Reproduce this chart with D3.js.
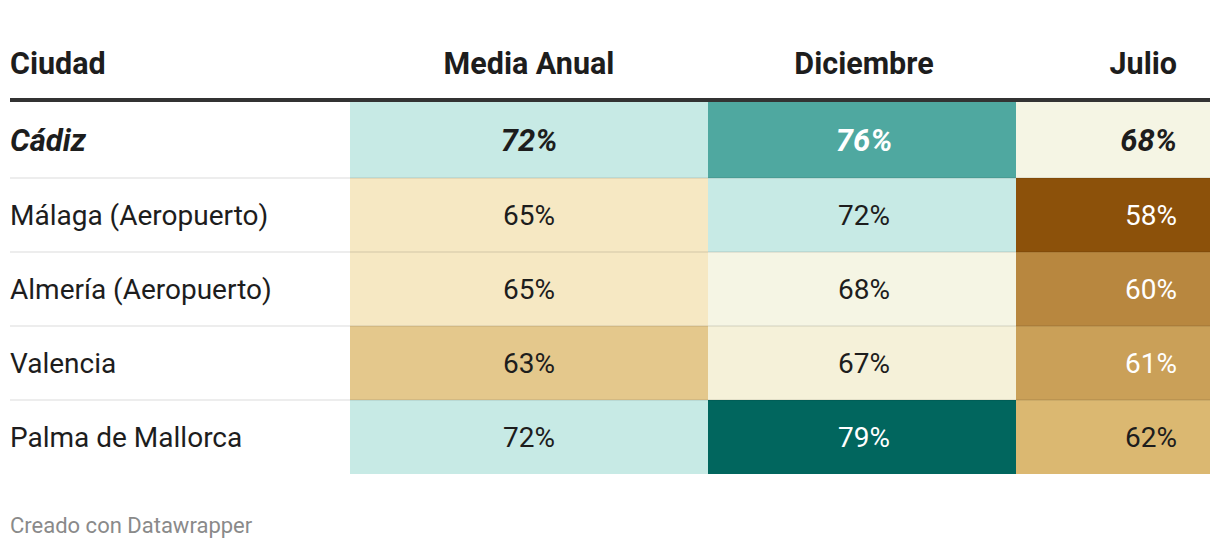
<!DOCTYPE html>
<html>
<head>
<meta charset="utf-8">
<script src="https://cdn.jsdelivr.net/npm/d3@7"></script>
<style>
  body { margin: 0; background: #fff; }
  svg { display: block; font-family: Roboto, "Noto Sans", sans-serif; }
</style>
</head>
<body>
<svg id="chart" width="1220" height="550"></svg>
<script>
// ---- data ----
const cities = ["Cádiz", "Málaga (Aeropuerto)", "Almería (Aeropuerto)", "Valencia", "Palma de Mallorca"];
const columns = ["Media Anual", "Diciembre", "Julio"];
const mediaAnual = [72, 65, 65, 63, 72];
const diciembre = [76, 72, 68, 67, 79];
const julio = [68, 58, 60, 61, 62];
const highlighted = ["Cádiz"];
const headerLabel = "Ciudad";
const footer = "Creado con Datawrapper";

const series = [mediaAnual, diciembre, julio];

const svg = d3.select("#chart");
const W = 1220;

// column geometry
const colX = d3.scaleOrdinal().domain(columns).range([350, 708, 1016]);
const colEnd = d3.scaleOrdinal().domain(columns).range([708, 1016, 1210]);
const y = d3.scaleBand().domain(cities).range([104, 474]).paddingInner(0);

const color = d3.scaleLinear()
  .domain([58, 60, 62, 65, 68, 72, 76, 79])
  .range(["#8c510a", "#b8873f", "#dbb871", "#f6e8c3", "#f5f5e4", "#c7eae5", "#4fa8a0", "#01665e"])
  .interpolate(d3.interpolateRgb);
const textColor = v => (v <= 61 || v >= 75) ? "#ffffff" : "#1d1d1d";

const HDR = 30.5, BODY = 28, HL = 31;
const colCenter = (c, i) => (colX(c) + colEnd(c)) / 2 + (i === 1 ? 2 : 0);

// header
const hdrY = 74;
svg.append("text").attr("x", 10).attr("y", hdrY)
  .attr("font-size", HDR).attr("font-weight", 700).attr("fill", "#1d1d1d").text(headerLabel);
columns.forEach((c, i) => {
  const t = svg.append("text").attr("y", hdrY)
    .attr("font-size", HDR).attr("font-weight", 700).attr("fill", "#1d1d1d").text(c);
  if (i < 2) t.attr("x", colCenter(c, i)).attr("text-anchor", "middle");
  else t.attr("x", 1177).attr("text-anchor", "end");
});

// cells
cities.forEach((city, r) => {
  const top = r === 0 ? 102 : y(city);
  const bottom = y(city) + y.bandwidth();
  columns.forEach((c, i) => {
    const v = series[i][r];
    svg.append("rect")
      .attr("x", colX(c)).attr("y", top)
      .attr("width", colEnd(c) - colX(c)).attr("height", bottom - top)
      .attr("fill", color(v));
  });
});

// row separators
cities.slice(1).forEach(city => {
  svg.append("rect")
    .attr("x", 10).attr("y", y(city) - 1)
    .attr("width", W - 20).attr("height", 2)
    .attr("fill", "rgba(0,0,0,0.07)");
});

// header rule
svg.append("rect").attr("x", 10).attr("y", 98).attr("width", W - 20).attr("height", 4).attr("fill", "#333333");

// labels & values
cities.forEach((city, r) => {
  const cy = y(city) + y.bandwidth() / 2 + (r === 0 ? -1 : 0);
  const hl = highlighted.includes(city);
  const fs = hl ? HL : BODY;
  svg.append("text").attr("x", 10).attr("y", cy).attr("dy", "0.36em")
    .attr("font-size", fs).attr("font-weight", hl ? 700 : 400)
    .attr("font-style", hl ? "italic" : "normal")
    .attr("fill", "#1d1d1d").text(city);
  columns.forEach((c, i) => {
    const v = series[i][r];
    const t = svg.append("text").attr("y", cy).attr("dy", "0.36em")
      .attr("font-size", fs).attr("font-weight", hl ? 700 : 400)
      .attr("font-style", hl ? "italic" : "normal")
      .attr("fill", textColor(v)).text(v + "%");
    if (i < 2) t.attr("x", colCenter(c, i)).attr("text-anchor", "middle");
    else t.attr("x", 1177).attr("text-anchor", "end");
  });
});

// footer
svg.append("text").attr("x", 10).attr("y", 533)
  .attr("font-size", 22).attr("fill", "#8a8a8a").text(footer);
</script>
</body>
</html>
